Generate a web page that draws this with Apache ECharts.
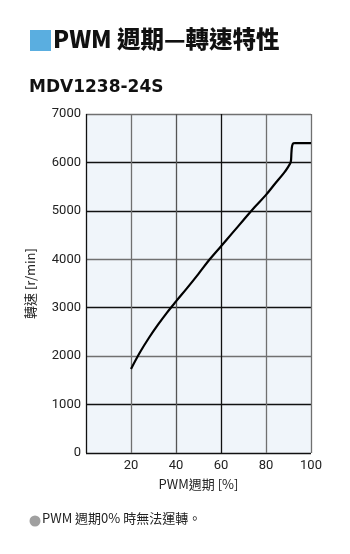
<!DOCTYPE html>
<html><head><meta charset="utf-8">
<script src="https://cdn.jsdelivr.net/npm/echarts@6/dist/echarts.min.js"></script>
<style>html,body{margin:0;padding:0;background:#fff}#c{width:350px;height:554px}</style>
</head><body><div id="c"></div>
<script>
const xTicks = [0, 20, 40, 60, 80, 100];
const yTicks = [0, 1000, 2000, 3000, 4000, 5000, 6000, 7000];
const pwm   = [20, 24, 28, 32, 36, 40, 45, 50, 55, 60, 65, 70, 75, 80, 84, 88, 90, 91, 91.3, 91.6, 92.2, 93, 100];
const speed = [1735, 2080, 2380, 2650, 2900, 3130, 3410, 3700, 4000, 4270, 4540, 4810, 5080, 5330, 5560, 5785, 5920, 6010, 6200, 6340, 6395, 6400, 6400];
const lineData = pwm.map((x, i) => [x, speed[i]]);
const GRAY = '#707070', BLACK = '#111';
const chart = echarts.init(document.getElementById('c'), null, {renderer: 'canvas'});
const tickFont = {fontFamily: 'Roboto', fontSize: 13, color: '#222'};
chart.setOption({
  animation: false,
  grid: {left: 86, right: 39, top: 114, bottom: 101, show: true, backgroundColor: '#f0f5fa', borderWidth: 0},
  xAxis: {
    type: 'value', min: 0, max: 100, interval: 20,
    axisLine: {show: false}, axisTick: {show: false},
    axisLabel: Object.assign({margin: 6, formatter: v => v === 0 ? '' : String(v)}, tickFont),
    splitLine: {show: true, lineStyle: {color: [BLACK, GRAY, '#555', BLACK, GRAY, GRAY], width: 1.3}},
    name: 'PWM週期 [%]', nameLocation: 'middle', nameGap: 25,
    nameTextStyle: {fontFamily: 'Noto Sans CJK TC', fontSize: 13, color: '#222'}
  },
  yAxis: {
    type: 'value', min: 0, max: 7000, interval: 1000,
    axisLine: {show: false}, axisTick: {show: false},
    axisLabel: Object.assign({margin: 5, formatter: v => String(v)}, tickFont),
    splitLine: {show: true, lineStyle: {color: [BLACK, BLACK, GRAY, BLACK, GRAY, BLACK, BLACK, GRAY], width: 1.3}},
    name: '轉速 [r/min]', nameLocation: 'middle', nameGap: 49, nameRotate: 90,
    nameTextStyle: {fontFamily: 'Noto Sans CJK TC', fontSize: 13, color: '#222'}
  },
  series: [{
    type: 'line', data: lineData, smooth: 0.35, symbol: 'none',
    lineStyle: {color: '#000', width: 2.2},
    markPoint: {
      symbol: 'none',
      data: [{coord: [100, 6650], label: {show: true, formatter: '6400 r/min', position: 'insideRight', offset: [-3, 0],
        fontFamily: 'Roboto', fontSize: 13, color: '#222'}}]
    }
  }],
  graphic: [
    {type: 'rect', shape: {x: 30, y: 30, width: 21, height: 21}, style: {fill: '#5aaee0'}},
    {type: 'text', left: 53, top: 27, style: {text: 'PWM 週期—轉速特性', font: '900 23.5px "Noto Sans CJK TC"', fill: '#111'}},
    {type: 'text', left: 29, top: 79, style: {text: 'MDV1238-24S', font: 'bold 17px "DejaVu Sans"', fill: '#111'}},
    {type: 'circle', shape: {cx: 35, cy: 521, r: 5.5}, style: {fill: '#a0a0a0'}},
    {type: 'text', left: 42, top: 512, style: {text: 'PWM 週期0% 時無法運轉。', font: '13px "Noto Sans CJK TC"', fill: '#222'}}
  ]
});
</script></body></html>
